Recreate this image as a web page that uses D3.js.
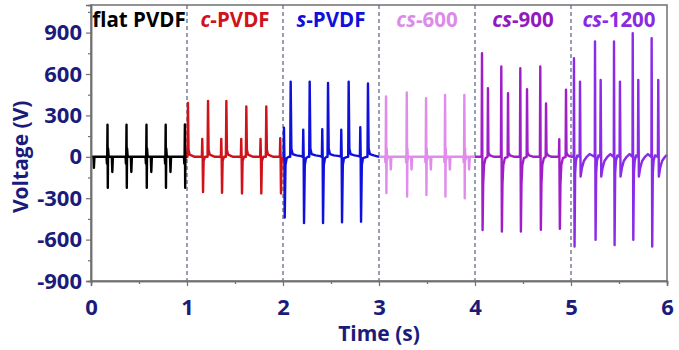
<!DOCTYPE html>
<html>
<head>
<meta charset="utf-8">
<script src="https://cdn.jsdelivr.net/npm/d3@7"></script>
<style>
  body { margin: 0; background: #fff; }
  svg text { font-family: "Open Sans", sans-serif; font-weight: 700; }
</style>
</head>
<body>
<svg id="chart" width="679" height="350"></svg>
<script>
// voltage traces, [time (s), voltage (V)]
const flatPVDF = [
  [0, 0], [0.025, 0], [0.03, -80], [0.036, 0],
  [0.162, 0], [0.166, -50], [0.169, 5], [0.172, 232], [0.175, -225], [0.178, 60], [0.184, 0], [0.217, 0], [0.222, -110], [0.228, 0],
  [0.36, 0], [0.364, -50], [0.367, 5], [0.37, 232], [0.373, -225], [0.376, 60], [0.382, 0], [0.415, 0], [0.42, -110], [0.426, 0],
  [0.568, 0], [0.572, -50], [0.575, 5], [0.578, 232], [0.581, -225], [0.584, 60], [0.59, 0], [0.623, 0], [0.628, -110], [0.634, 0],
  [0.768, 0], [0.772, -50], [0.775, 5], [0.778, 232], [0.781, -225], [0.784, 60], [0.79, 0], [0.823, 0], [0.828, -110], [0.834, 0],
  [0.968, 0], [0.972, -50], [0.975, 5], [0.978, 235], [0.981, -225], [0.984, 60], [0.99, 0], [1.0, 0]
];
const cPVDF = [
  [1.0, 0], [1.005, 0], [1.01, 390], [1.016, 50], [1.028, 15], [1.08, 0],
  [1.155, 0], [1.159, 130], [1.163, 0], [1.167, -255], [1.173, -30], [1.188, 0],
  [1.214, 0], [1.219, 405], [1.225, 50], [1.237, 15], [1.29, 0],
  [1.353, 0], [1.357, 130], [1.361, 0], [1.365, -260], [1.371, -30], [1.386, 0],
  [1.405, 0], [1.41, 405], [1.416, 50], [1.428, 15], [1.48, 0],
  [1.561, 0], [1.565, 130], [1.569, 0], [1.573, -265], [1.579, -30], [1.594, 0],
  [1.613, 0], [1.618, 365], [1.624, 50], [1.636, 15], [1.69, 0],
  [1.762, 0], [1.766, 130], [1.77, 0], [1.774, -265], [1.78, -30], [1.795, 0],
  [1.821, 0], [1.826, 365], [1.832, 50], [1.844, 15], [1.9, 0],
  [1.967, 0], [1.971, 135], [1.975, 0], [1.979, -265], [1.985, -30], [2.0, 0]
];
const sPVDF = [
  [2.0, 0], [2.006, 0], [2.01, 210], [2.014, 20], [2.018, -440], [2.026, -60], [2.038, -10], [2.06, 0],
  [2.075, 0], [2.08, 545], [2.087, 60], [2.1, 20], [2.14, 10], [2.19, 5],
  [2.207, 0], [2.211, 196], [2.215, 20], [2.219, -480], [2.227, -60], [2.239, -10], [2.26, 0],
  [2.273, 0], [2.278, 545], [2.285, 60], [2.298, 20], [2.34, 10], [2.39, 5],
  [2.405, 0], [2.409, 200], [2.413, 20], [2.417, -480], [2.425, -60], [2.437, -10], [2.455, 0],
  [2.464, 0], [2.469, 535], [2.476, 60], [2.489, 20], [2.53, 10], [2.59, 5],
  [2.603, 0], [2.607, 196], [2.611, 20], [2.615, -475], [2.623, -60], [2.635, -10], [2.67, 0],
  [2.679, 0], [2.684, 545], [2.691, 60], [2.704, 20], [2.745, 10], [2.79, 5],
  [2.801, 0], [2.805, 215], [2.809, 20], [2.813, -470], [2.821, -60], [2.833, -10], [2.87, 0],
  [2.88, 0], [2.885, 531], [2.892, 60], [2.905, 20], [2.945, 10], [3.0, 0]
];
const cs600 = [
  [3.0, 0],
  [3.063, 0], [3.067, -40], [3.07, 0], [3.073, 437], [3.075, 250], [3.077, -263], [3.08, 60], [3.085, -20], [3.093, 0], [3.118, 0], [3.123, -92], [3.129, 0],
  [3.279, 0], [3.283, -40], [3.286, 0], [3.289, 466], [3.291, 250], [3.293, -288], [3.296, 60], [3.301, -20], [3.309, 0], [3.334, 0], [3.339, -92], [3.345, 0],
  [3.48, 0], [3.484, -40], [3.487, 0], [3.49, 425], [3.492, 250], [3.494, -276], [3.497, 60], [3.502, -20], [3.51, 0], [3.535, 0], [3.54, -92], [3.546, 0],
  [3.678, 0], [3.682, -40], [3.685, 0], [3.688, 449], [3.69, 250], [3.692, -288], [3.695, 60], [3.7, -20], [3.708, 0], [3.733, 0], [3.738, -92], [3.744, 0],
  [3.879, 0], [3.883, -40], [3.886, 0], [3.889, 449], [3.891, 250], [3.893, -300], [3.896, 60], [3.901, -20], [3.909, 0], [3.934, 0], [3.939, -92], [3.945, 0],
  [4.0, 0]
];
const cs900 = [
  [4.0, 0],
  [4.069, 0], [4.073, 750], [4.079, -530], [4.085, -200], [4.094, -60], [4.11, -10], [4.131, 0], [4.135, 497], [4.14, 30], [4.155, 10], [4.2, 0],
  [4.27, 0], [4.274, 654], [4.28, -541], [4.286, -200], [4.295, -60], [4.311, -10], [4.34, 0], [4.344, 461], [4.349, 30], [4.364, 10], [4.41, 0],
  [4.468, 0], [4.472, 642], [4.478, -541], [4.484, -200], [4.493, -60], [4.509, -10], [4.538, 0], [4.542, 490], [4.547, 30], [4.562, 10], [4.61, 0],
  [4.676, 0], [4.68, 654], [4.686, -529], [4.692, -200], [4.701, -60], [4.717, -10], [4.736, 0], [4.74, 387], [4.745, 30], [4.76, 10], [4.8, 0],
  [4.874, 0], [4.878, 128], [4.884, -522], [4.89, -200], [4.899, -60], [4.915, -10], [4.944, 0], [4.948, 486], [4.953, 30], [4.968, 10], [5.0, 0]
];
const cs1200 = [
  [5.0, 0],
  [5.025, 0], [5.029, 30], [5.031, 715], [5.037, -650], [5.043, -120], [5.051, -30], [5.066, 10], [5.09, 0], [5.094, 545], [5.1, -143], [5.114, -80], [5.134, -30], [5.164, 0], [5.194, 20],
  [5.244, 0], [5.248, 30], [5.25, 835], [5.256, -601], [5.262, -120], [5.27, -30], [5.285, 10], [5.305, 0], [5.309, 556], [5.315, -143], [5.329, -80], [5.349, -30], [5.379, 0], [5.409, 20],
  [5.442, 0], [5.446, 30], [5.448, 835], [5.454, -640], [5.46, -120], [5.468, -30], [5.483, 10], [5.506, 0], [5.51, 545], [5.516, -143], [5.53, -80], [5.55, -30], [5.58, 0], [5.61, 20],
  [5.637, 0], [5.641, 30], [5.643, 896], [5.649, -601], [5.655, -120], [5.663, -30], [5.678, 10], [5.697, 0], [5.701, 556], [5.707, -143], [5.721, -80], [5.741, -30], [5.771, 0], [5.801, 20],
  [5.834, 0], [5.838, 30], [5.84, 860], [5.846, -650], [5.852, -120], [5.86, -30], [5.875, 10], [5.905, 0], [5.909, 556], [5.915, -143], [5.929, -80], [5.949, -30], [5.979, 0], [6.0, 15]
];

const traces = [flatPVDF, cPVDF, sPVDF, cs600, cs900, cs1200];
const segmentStart = [0, 1, 2, 3, 4, 5];
const labelItalic = ["", "c", "s", "cs", "cs", "cs"];
const labelRest = ["flat PVDF", "-PVDF", "-PVDF", "-600", "-900", "-1200"];
const traceColors = ["#000000", "#d0121a", "#1010dc", "#e08ceb", "#a01ec8", "#8a2be8"];
const labelColors = ["#000000", "#d0121a", "#1010dc", "#dc8ce8", "#9418c0", "#8a2be2"];

const xTicks = [0, 1, 2, 3, 4, 5, 6];
const xMinor = [0.5, 1.5, 2.5, 3.5, 4.5, 5.5];
const yTicks = [-900, -600, -300, 0, 300, 600, 900];
const yMinor = [-750, -450, -150, 150, 450, 750, 1050];
const dividers = [1, 2, 3, 4, 5];

const margin = {top: 5, right: 12, bottom: 69, left: 91};
const width = 679 - margin.left - margin.right;
const height = 350 - margin.top - margin.bottom;
const axisColor = "#1b1b7c";
const frameColor = "#707070";

const svg = d3.select("#chart");
const g = svg.append("g").attr("transform", `translate(${margin.left},${margin.top})`);

const x = d3.scaleLinear().domain([0, 6]).range([0, width]);
const y = d3.scaleLinear().domain([-900, 1100]).range([height, 0]);

// dashed dividers between samples
g.selectAll("line.divider")
  .data(dividers)
  .enter()
  .append("line")
  .attr("class", "divider")
  .attr("x1", d => x(d)).attr("x2", d => x(d))
  .attr("y1", 0).attr("y2", height)
  .attr("stroke", "#55607e")
  .attr("stroke-width", 1.2)
  .attr("stroke-dasharray", "4,3");

// traces
const line = d3.line().x(d => x(d[0])).y(d => y(d[1]));
g.selectAll("path.trace")
  .data(traces)
  .enter()
  .append("path")
  .attr("class", "trace")
  .attr("d", line)
  .attr("fill", "none")
  .attr("stroke", (d, i) => traceColors[i])
  .attr("stroke-width", 2.4)
  .attr("stroke-linejoin", "round");

// frame
g.append("rect")
  .attr("width", width).attr("height", height)
  .attr("fill", "none")
  .attr("stroke", frameColor)
  .attr("stroke-width", 1.5);

// axes (plain hyphen for negatives, as in the original)
const fmt = d => String(d);
const xAxis = g.append("g")
  .attr("transform", `translate(0,${height})`)
  .call(d3.axisBottom(x).tickValues(xTicks).tickSize(5).tickPadding(13).tickFormat(fmt));
const xAxisMinor = g.append("g")
  .attr("transform", `translate(0,${height})`)
  .call(d3.axisBottom(x).tickValues(xMinor).tickSize(3).tickFormat(""));
const yAxis = g.append("g")
  .call(d3.axisLeft(y).tickValues(yTicks).tickSize(5).tickPadding(4).tickFormat(fmt));
const yAxisMinor = g.append("g")
  .call(d3.axisLeft(y).tickValues(yMinor).tickSize(3).tickFormat(""));

[xAxis, xAxisMinor, yAxis, yAxisMinor].forEach(a => {
  a.select(".domain").attr("stroke", frameColor).attr("stroke-width", 1.5);
  a.selectAll(".tick line").attr("stroke", frameColor).attr("stroke-width", 1.2);
  a.selectAll(".tick text")
    .attr("fill", axisColor)
    .style("font-size", "22px")
    .style("font-weight", "700");
});

// sample labels
const labels = g.selectAll("text.seg")
  .data(segmentStart)
  .enter()
  .append("text")
  .attr("class", "seg")
  .attr("x", d => x(d + 0.5))
  .attr("y", 22)
  .attr("text-anchor", "middle")
  .attr("fill", (d, i) => labelColors[i])
  .style("font-size", "20.5px");
labels.append("tspan")
  .style("font-style", "italic")
  .text((d, i) => labelItalic[i]);
labels.append("tspan")
  .text((d, i) => labelRest[i]);

// axis titles
svg.append("text")
  .attr("x", margin.left + width / 2)
  .attr("y", 341)
  .attr("text-anchor", "middle")
  .attr("fill", axisColor)
  .style("font-size", "21px")
  .text("Time (s)");
svg.append("text")
  .attr("transform", `translate(28,${margin.top + y(0)}) rotate(-90)`)
  .attr("text-anchor", "middle")
  .attr("fill", axisColor)
  .style("font-size", "21px")
  .text("Voltage (V)");
</script>
</body>
</html>
